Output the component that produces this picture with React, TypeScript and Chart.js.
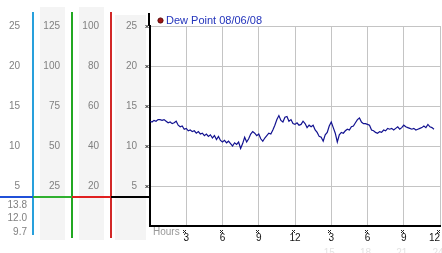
import React, { useEffect, useRef } from 'react';
import { Chart, registerables } from 'chart.js';

Chart.register(...registerables);

const FONT = '"Liberation Sans", Arial, Helvetica, sans-serif';

const seriesLabel = 'Dew Point 08/06/08';
const sampleStepHours = 1 / 6; // 10-minute readings
const dewPoint = [
  13.1, 13.0, 13.2, 13.1, 13.3, 13.3, 13.2, 13.3, 13.1, 12.9, 13.0, 12.8,
  12.9, 13.1, 12.6, 12.4, 12.5, 12.1, 12.2, 11.9, 12.0, 11.8, 11.9, 11.6,
  11.8, 11.5, 11.6, 11.3, 11.5, 11.2, 11.4, 11.0, 11.3, 10.8, 11.2, 10.7,
  10.5, 10.7, 10.4, 10.6, 10.3, 10.0, 10.4, 10.2, 10.5, 9.7, 10.3, 11.1,
  10.5, 10.9, 11.5, 11.8, 11.6, 11.3, 11.5, 10.9, 10.6, 11.0, 11.3, 11.6,
  11.5, 12.0, 12.6, 13.3, 13.8, 13.2, 13.0, 13.6, 13.7, 13.1, 13.3, 12.8,
  12.7, 12.9, 12.6, 12.7, 13.1, 12.8, 12.3, 12.6, 12.4, 12.6, 12.0, 11.7,
  11.2, 11.1, 10.6, 11.4, 11.7, 12.5, 13.0, 12.3, 11.6, 10.5, 11.4, 11.7,
  11.6, 11.9, 12.1, 12.0, 12.4, 12.5, 12.9, 13.3, 13.5, 13.0, 12.8, 12.8,
  12.7, 12.6, 12.0, 11.9, 11.7, 11.6, 11.8, 11.7, 12.0, 11.9, 12.2, 12.1,
  12.2, 12.0, 12.2, 12.4, 12.1, 12.3, 12.6, 12.4, 12.3, 12.2, 12.1, 12.2,
  12.0, 12.1, 12.2, 12.3, 12.5, 12.3, 12.7, 12.4, 12.3, 12.1,
];

const hourTicks = [3, 6, 9, 12, 15, 18, 21, 24];
const hourTickLabels = ['3', '6', '9', '12', '3', '6', '9', '12'];
const faintTickHours = [15, 18, 21, 24];
const faintTickLabels = ['15', '18', '21', '24'];

const mainMax = 25; // inner column & plot
const col3Max = 100;
const col2Max = 125;
const col1Max = 25;

const summaryLabels = ['13.8', '12.0', '9.7'];
const dividerValue = 3.6;

function leftAxis(max: number, weight: number, width: number, padding: number) {
  return {
    type: 'linear',
    position: 'left',
    min: 0,
    max,
    weight,
    ticks: {
      stepSize: max / 5,
      color: '#808080',
      font: { size: 10, family: FONT },
      padding,
    },
    grid: { display: false, drawTicks: false },
    border: { display: false },
    afterBuildTicks: (s: any) => {
      s.ticks = s.ticks.filter((t: any) => t.value > 0 && t.value <= max);
    },
    afterFit: (s: any) => {
      s.width = width;
      s.paddingTop = 0;
      s.paddingBottom = 0;
    },
  };
}

function cross(ctx: CanvasRenderingContext2D, x: number, y: number) {
  ctx.beginPath();
  ctx.moveTo(x - 1.5, y - 1.5);
  ctx.lineTo(x + 1.5, y + 1.5);
  ctx.moveTo(x + 1.5, y - 1.5);
  ctx.lineTo(x - 1.5, y + 1.5);
  ctx.stroke();
}

const decor = {
  id: 'decor',
  beforeDraw(chart: any) {
    const ctx = chart.ctx as CanvasRenderingContext2D;
    const { y, y1, y2 } = chart.scales;
    ctx.save();
    ctx.fillStyle = '#f4f4f4';
    ctx.fillRect(y2.left + 7, 7, y2.width - 14, 233);
    ctx.fillRect(y1.left + 7, 7, y1.width - 14, 233);
    ctx.fillRect(y.left + 4, 15, y.width - 8, 225);
    ctx.restore();
  },
  afterDraw(chart: any) {
    const ctx = chart.ctx as CanvasRenderingContext2D;
    const { x, y, y1, y2, y3 } = chart.scales;
    const area = chart.chartArea;
    ctx.save();

    // coloured column separators
    const sep: [number, string, number][] = [
      [y3.right, 'rgb(40,160,220)', 235],
      [y2.right, 'rgb(34,168,34)', 238],
      [y1.right, 'rgb(210,40,40)', 238],
    ];
    for (const [px, col, bottom] of sep) {
      ctx.fillStyle = col;
      ctx.fillRect(Math.round(px) - 1, 12, 2, bottom - 12);
    }

    // divider line
    const dy = Math.round(y.getPixelForValue(dividerValue));
    const segs: [number, number, string][] = [
      [0, y3.right, '#2050d8'],
      [y3.right, y2.right, '#30b030'],
      [y2.right, y1.right, '#e02020'],
      [y1.right, area.left, '#000000'],
    ];
    for (const [a, b, col] of segs) {
      ctx.fillStyle = col;
      ctx.fillRect(a, dy - 1, b - a, 2);
    }

    // summary values
    ctx.fillStyle = '#808080';
    ctx.font = `10px ${FONT}`;
    ctx.textAlign = 'right';
    ctx.textBaseline = 'middle';
    summaryLabels.forEach((t, i) => {
      ctx.fillText(t, 27, dy + 8 + i * 13.5);
    });

    // axis extension above plot
    ctx.fillStyle = '#000';
    ctx.fillRect(area.left - 2, 13, 2, area.top - 13);

    // y marks
    ctx.strokeStyle = '#222';
    ctx.lineWidth = 1;
    for (let v = 5; v <= mainMax; v += 5) {
      cross(ctx, area.left - 3, Math.round(y.getPixelForValue(v)) + 0.5);
    }
    // x marks
    for (const h of hourTicks) {
      cross(ctx, Math.round(x.getPixelForValue(h)) - 1.5, 231.5);
    }

    // Hours label
    ctx.fillStyle = '#999';
    ctx.textAlign = 'left';
    ctx.fillText('Hours', area.left + 3, 232);

    // faint 24h labels
    ctx.fillStyle = '#e4e4e4';
    ctx.textAlign = 'center';
    faintTickHours.forEach((h, i) => {
      ctx.fillText(faintTickLabels[i], x.getPixelForValue(h) - 2, 253);
    });

    // legend
    const lx = area.left + 10.5;
    const ly = 20.5;
    ctx.fillStyle = '#a01414';
    ctx.strokeStyle = '#5a0a0a';
    ctx.beginPath();
    ctx.arc(lx, ly, 2.6, 0, Math.PI * 2);
    ctx.fill();
    ctx.stroke();
    ctx.fillStyle = '#2233bb';
    ctx.font = `11px ${FONT}`;
    ctx.textAlign = 'left';
    ctx.fillText(chart.data.datasets[0].label, lx + 5.5, ly);

    ctx.restore();
  },
};

export default function App() {
  const ref = useRef<HTMLCanvasElement | null>(null);

  useEffect(() => {
    if (!ref.current) return;
    const chart = new Chart(ref.current, {
      type: 'line',
      data: {
        datasets: [
          {
            label: seriesLabel,
            data: dewPoint.map((v, i) => ({ x: i * sampleStepHours, y: v })),
            borderColor: '#121290',
            borderWidth: 1.2,
            pointRadius: 0,
            tension: 0,
            fill: false,
          },
        ],
      },
      options: {
        animation: false,
        responsive: false,
        devicePixelRatio: 1,
        layout: { padding: { top: 26, right: 2, left: 0, bottom: 0 } },
        plugins: { legend: { display: false }, tooltip: { enabled: false } },
        scales: {
          x: {
            type: 'linear',
            position: 'bottom',
            min: 0,
            max: 24,
            ticks: {
              stepSize: 3,
              autoSkip: false,
              maxRotation: 0,
              align: 'inner',
              color: '#111',
              font: { size: 10, family: FONT },
              padding: 6,
              callback: (v: any) => {
                const i = hourTicks.indexOf(Number(v));
                return i >= 0 ? hourTickLabels[i] : '';
              },
            },
            grid: {
              drawTicks: false,
              color: (c: any) => (c.tick && c.tick.value === 0 ? 'rgba(0,0,0,0)' : '#c4c4c4'),
            },
            border: { color: '#000', width: 2 },
            afterFit: (s: any) => {
              s.height = 27;
              s.paddingLeft = 0;
              s.paddingRight = 0;
            },
          },
          y: {
            ...leftAxis(mainMax, 0, 39, 13),
            grid: { drawTicks: false, color: '#c4c4c4' },
            border: { color: '#000', width: 2 },
          },
          y1: leftAxis(col3Max, 1, 39, 12),
          y2: leftAxis(col2Max, 2, 39, 12),
          y3: leftAxis(col1Max, 3, 33, 13),
        } as any,
      },
      plugins: [decor],
    } as any);
    return () => chart.destroy();
  }, []);

  return (
    <div style={{ position: 'absolute', left: 0, top: 0, width: 442, height: 253, background: '#fff' }}>
      <canvas ref={ref} width={442} height={253} style={{ display: 'block' }} />
    </div>
  );
}
